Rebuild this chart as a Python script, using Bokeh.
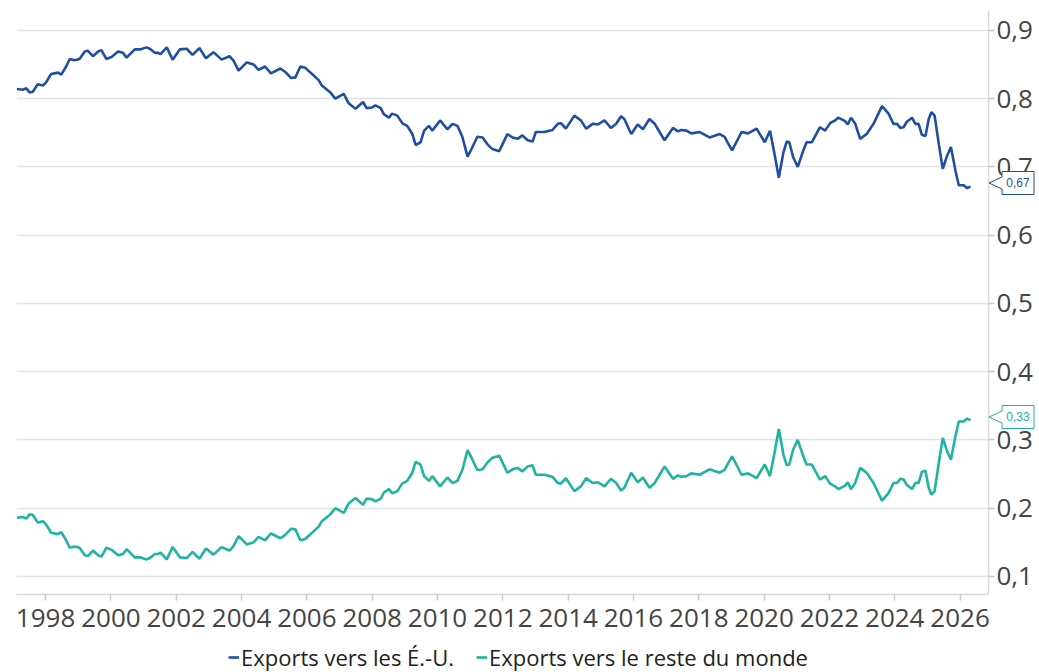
from bokeh.plotting import figure
from bokeh.models import (Range1d, FixedTicker, CustomJSTickFormatter, Legend,
                          LegendItem, GridBox, Div)
from bokeh.embed import file_html
from bokeh.resources import INLINE

# Dates (decimal years)
dates = [
    1997.12, 1997.30, 1997.41, 1997.51, 1997.61, 1997.76, 1997.92,
    1998.02, 1998.17, 1998.38, 1998.48, 1998.63, 1998.74, 1998.89,
    1999.04, 1999.20, 1999.30, 1999.45, 1999.61, 1999.71, 1999.86,
    2000.02, 2000.22, 2000.37, 2000.48, 2000.73, 2000.89,
    2001.09, 2001.19, 2001.35, 2001.45, 2001.52, 2001.71, 2001.89,
    2002.11, 2002.32, 2002.50, 2002.71, 2002.91,
    2003.14, 2003.39, 2003.63, 2003.75, 2003.91,
    2004.16, 2004.37, 2004.52, 2004.72, 2004.90,
    2005.19, 2005.34, 2005.52, 2005.65, 2005.80, 2005.95,
    2006.16, 2006.36, 2006.46, 2006.72, 2006.87,
    2007.13, 2007.28, 2007.49, 2007.72, 2007.83,
    2008.00, 2008.10, 2008.26, 2008.36, 2008.51, 2008.61, 2008.77, 2008.92,
    2009.07, 2009.23, 2009.33, 2009.48, 2009.59, 2009.74, 2009.84,
    2010.08, 2010.30, 2010.46, 2010.61, 2010.76, 2010.92,
    2011.02, 2011.22, 2011.38, 2011.53, 2011.68, 2011.89,
    2012.14, 2012.30, 2012.45, 2012.60, 2012.76, 2012.91,
    2013.01, 2013.27, 2013.42, 2013.52, 2013.68, 2013.78, 2013.93,
    2014.19, 2014.39, 2014.55, 2014.75, 2014.91,
    2015.11, 2015.31, 2015.47, 2015.62, 2015.72, 2015.93,
    2016.13, 2016.29, 2016.49, 2016.65, 2016.80, 2016.95,
    2017.21, 2017.36, 2017.46, 2017.62, 2017.77,
    2018.03, 2018.33, 2018.64, 2018.79, 2018.90,
    2019.02, 2019.31, 2019.51, 2019.77, 2019.87,
    2020.02, 2020.18, 2020.31, 2020.45, 2020.59, 2020.69, 2020.77, 2020.89,
    2021.03, 2021.20, 2021.30, 2021.46, 2021.71, 2021.87,
    2022.02, 2022.17, 2022.27, 2022.48, 2022.56, 2022.66, 2022.79, 2022.94,
    2023.14, 2023.35, 2023.61, 2023.81, 2023.96,
    2024.07, 2024.17, 2024.27, 2024.37, 2024.53, 2024.63, 2024.73, 2024.83, 2024.94,
    2025.04, 2025.12, 2025.22, 2025.35, 2025.47, 2025.60, 2025.72, 2025.86, 2025.96,
    2026.11, 2026.21, 2026.32,
]

# Share of exports going to the U.S.
exports_us = [
    0.814, 0.813, 0.815, 0.809, 0.810, 0.821, 0.819,
    0.824, 0.836, 0.838, 0.835, 0.847, 0.858, 0.856,
    0.858, 0.869, 0.870, 0.862, 0.869, 0.871, 0.858,
    0.861, 0.869, 0.867, 0.860, 0.872, 0.872,
    0.875, 0.873, 0.867, 0.867, 0.865, 0.875, 0.857,
    0.872, 0.873, 0.864, 0.874, 0.859,
    0.868, 0.857, 0.862, 0.856, 0.841,
    0.853, 0.850, 0.842, 0.847, 0.837,
    0.844, 0.839, 0.830, 0.831, 0.847, 0.845,
    0.836, 0.827, 0.819, 0.809, 0.800,
    0.807, 0.793, 0.785, 0.795, 0.786,
    0.787, 0.790, 0.786, 0.777, 0.772, 0.778, 0.775, 0.764,
    0.760, 0.748, 0.732, 0.736, 0.753, 0.760, 0.753,
    0.768, 0.755, 0.763, 0.760, 0.744, 0.715,
    0.724, 0.744, 0.743, 0.733, 0.726, 0.723,
    0.748, 0.743, 0.741, 0.746, 0.739, 0.737,
    0.751, 0.751, 0.753, 0.754, 0.763, 0.764, 0.756,
    0.775, 0.768, 0.756, 0.763, 0.762,
    0.768, 0.757, 0.763, 0.774, 0.770, 0.748,
    0.762, 0.755, 0.770, 0.763, 0.751, 0.739,
    0.757, 0.752, 0.754, 0.753, 0.749,
    0.751, 0.743, 0.748, 0.744, 0.734,
    0.724, 0.751, 0.749, 0.756, 0.748,
    0.736, 0.753, 0.721, 0.684, 0.721, 0.737, 0.736, 0.714,
    0.700, 0.724, 0.736, 0.736, 0.758, 0.753,
    0.764, 0.768, 0.772, 0.767, 0.762, 0.772, 0.763, 0.741,
    0.748, 0.763, 0.789, 0.778, 0.763,
    0.763, 0.757, 0.758, 0.766, 0.772, 0.763, 0.763, 0.747, 0.745,
    0.770, 0.780, 0.775, 0.733, 0.697, 0.716, 0.729, 0.694, 0.673,
    0.673, 0.669, 0.671,
]

# Share of exports going to the rest of the world
exports_row = [
    0.186, 0.187, 0.185, 0.191, 0.190, 0.179, 0.181,
    0.176, 0.164, 0.162, 0.165, 0.153, 0.142, 0.144,
    0.142, 0.131, 0.130, 0.138, 0.131, 0.129, 0.142,
    0.139, 0.131, 0.133, 0.140, 0.128, 0.128,
    0.125, 0.127, 0.133, 0.133, 0.135, 0.125, 0.143,
    0.128, 0.127, 0.136, 0.126, 0.141,
    0.132, 0.143, 0.138, 0.144, 0.159,
    0.147, 0.150, 0.158, 0.153, 0.163,
    0.156, 0.161, 0.170, 0.169, 0.153, 0.155,
    0.164, 0.173, 0.181, 0.191, 0.200,
    0.193, 0.207, 0.215, 0.205, 0.214,
    0.213, 0.210, 0.214, 0.223, 0.228, 0.222, 0.225, 0.236,
    0.240, 0.252, 0.268, 0.264, 0.247, 0.240, 0.247,
    0.232, 0.245, 0.237, 0.240, 0.256, 0.285,
    0.276, 0.256, 0.257, 0.267, 0.274, 0.277,
    0.252, 0.257, 0.259, 0.254, 0.261, 0.263,
    0.249, 0.249, 0.247, 0.246, 0.237, 0.236, 0.244,
    0.225, 0.232, 0.244, 0.237, 0.238,
    0.232, 0.243, 0.237, 0.226, 0.230, 0.252,
    0.238, 0.245, 0.230, 0.237, 0.249, 0.261,
    0.243, 0.248, 0.246, 0.247, 0.251,
    0.249, 0.257, 0.252, 0.256, 0.266,
    0.276, 0.249, 0.251, 0.244, 0.252,
    0.264, 0.247, 0.279, 0.316, 0.279, 0.263, 0.264, 0.286,
    0.300, 0.276, 0.264, 0.264, 0.242, 0.247,
    0.236, 0.232, 0.228, 0.233, 0.238, 0.228, 0.237, 0.259,
    0.252, 0.237, 0.211, 0.222, 0.237,
    0.237, 0.243, 0.242, 0.234, 0.228, 0.237, 0.237, 0.253, 0.255,
    0.230, 0.220, 0.225, 0.267, 0.303, 0.284, 0.271, 0.306, 0.327,
    0.327, 0.331, 0.329,
]

year_ticks = list(range(1998, 2027, 2))
share_ticks = [0.1, 0.2, 0.3, 0.4, 0.5, 0.6, 0.7, 0.8, 0.9]
labels = ["Exports vers les É.-U.", "Exports vers le reste du monde"]

US_COLOR = "#1f4ea3"
ROW_COLOR = "#20b3a1"
FONT = "Open Sans"
TXT = "#444444"

X0, X1 = 1997.11, 2026.87
Y0, Y1 = 0.0736, 0.929
FW, FH = 972, 584
LEFT, TOP, RIGHT, BOTTOM = 16, 10, 51, 50
MAIN_W = LEFT + FW + RIGHT
MAIN_H = TOP + FH + BOTTOM

p = figure(frame_width=FW, frame_height=FH,
           x_range=Range1d(X0, X1), y_range=Range1d(Y0, Y1),
           y_axis_location="right", output_backend="svg", toolbar_location=None,
           min_border_left=LEFT, min_border_top=TOP, min_border_right=RIGHT,
           min_border_bottom=BOTTOM, outline_line_color=None,
           background_fill_color="white", border_fill_color="white")

r_us = p.line(dates, exports_us, line_color=US_COLOR, line_width=2.6)
r_row = p.line(dates, exports_row, line_color=ROW_COLOR, line_width=2.6)

# axes
p.xaxis.ticker = FixedTicker(ticks=year_ticks)
p.xaxis.formatter = CustomJSTickFormatter(code="return tick.toFixed(0);")
p.yaxis.ticker = FixedTicker(ticks=share_ticks)
p.yaxis.formatter = CustomJSTickFormatter(code="return tick.toFixed(1).replace('.', ',');")
for ax in (p.xaxis, p.yaxis):
    ax.major_label_text_font = FONT
    ax.major_label_text_font_size = "26px"
    ax.major_label_text_color = TXT
    ax.axis_line_color = "#d9d9d9"
    ax.axis_line_width = 1.5
    ax.major_tick_line_color = "#c8c8c8"
    ax.major_tick_line_width = 1.5
    ax.major_tick_in = 0
    ax.major_tick_out = 6
    ax.minor_tick_line_color = None
p.xaxis.major_label_standoff = 8
p.yaxis.major_label_standoff = 2

p.xgrid.grid_line_color = None
p.ygrid.ticker = FixedTicker(ticks=share_ticks)
p.ygrid.grid_line_color = "#e3e3e3"
p.ygrid.grid_line_width = 1.6

# end-value callouts on the right-hand axis: a transparent sheet laid over the
# chart (same grid cell); vertical position follows the chart's y mapping
AX = LEFT + FW  # pixel position of the right-hand axis line


def px_y(v):
    return TOP + (Y1 - v) / (Y1 - Y0) * FH


tags = []
for series, color in ((exports_us, US_COLOR), (exports_row, ROW_COLOR)):
    v = series[-1]
    top = px_y(v) - 3 - 12
    txt = ("%.2f" % v).replace(".", ",")
    tags.append(
        '<svg width="48" height="24" style="position:absolute;left:%dpx;top:%.1fpx;'
        'overflow:visible">'
        '<polygon points="1,12 14,6 14,0.5 46,0.5 46,23.5 14,23.5 14,18" '
        'fill="white" stroke="%s" stroke-width="1"/>'
        '<text x="30" y="12" text-anchor="middle" dominant-baseline="central" '
        'font-family="Open Sans" font-size="12" fill="%s">%s</text></svg>'
        % (AX, top, color, color, txt))
callouts = Div(text='<div style="position:relative;width:%dpx;height:%dpx">%s</div>'
               % (MAIN_W, MAIN_H, "".join(tags)),
               width=MAIN_W, height=MAIN_H, margin=0)

# legend in its own strip below the chart (same side borders as the chart so
# that frames line up)
LEG_H = 34
leg_fig = figure(frame_width=FW, frame_height=LEG_H, x_range=Range1d(0, 1),
                 y_range=Range1d(0, 1), x_axis_location=None, y_axis_location=None,
                 output_backend="svg", toolbar_location=None,
                 min_border_left=LEFT, min_border_right=RIGHT, min_border_top=0,
                 min_border_bottom=0, outline_line_color=None,
                 background_fill_color="white", border_fill_color="white")
leg_fig.grid.visible = False
d_us = leg_fig.line(x=[0.5], y=[0.5], line_color=US_COLOR, line_width=2.6)
d_row = leg_fig.line(x=[0.5], y=[0.5], line_color=ROW_COLOR, line_width=2.6)
legend = Legend(items=[LegendItem(label=labels[0], renderers=[d_us]),
                       LegendItem(label=labels[1], renderers=[d_row])],
                orientation="horizontal", location=(212, 6),
                label_text_font=FONT, label_text_font_size="22px",
                label_text_color="#222222", glyph_width=11, glyph_height=22,
                label_height=22, label_standoff=2, spacing=22, padding=0,
                margin=0, border_line_color=None, background_fill_alpha=0)
leg_fig.add_layout(legend)

layout = GridBox(children=[(p, 0, 0), (callouts, 0, 0), (leg_fig, 1, 0)], spacing=0)
open("out.html", "w").write(file_html(layout, INLINE))
